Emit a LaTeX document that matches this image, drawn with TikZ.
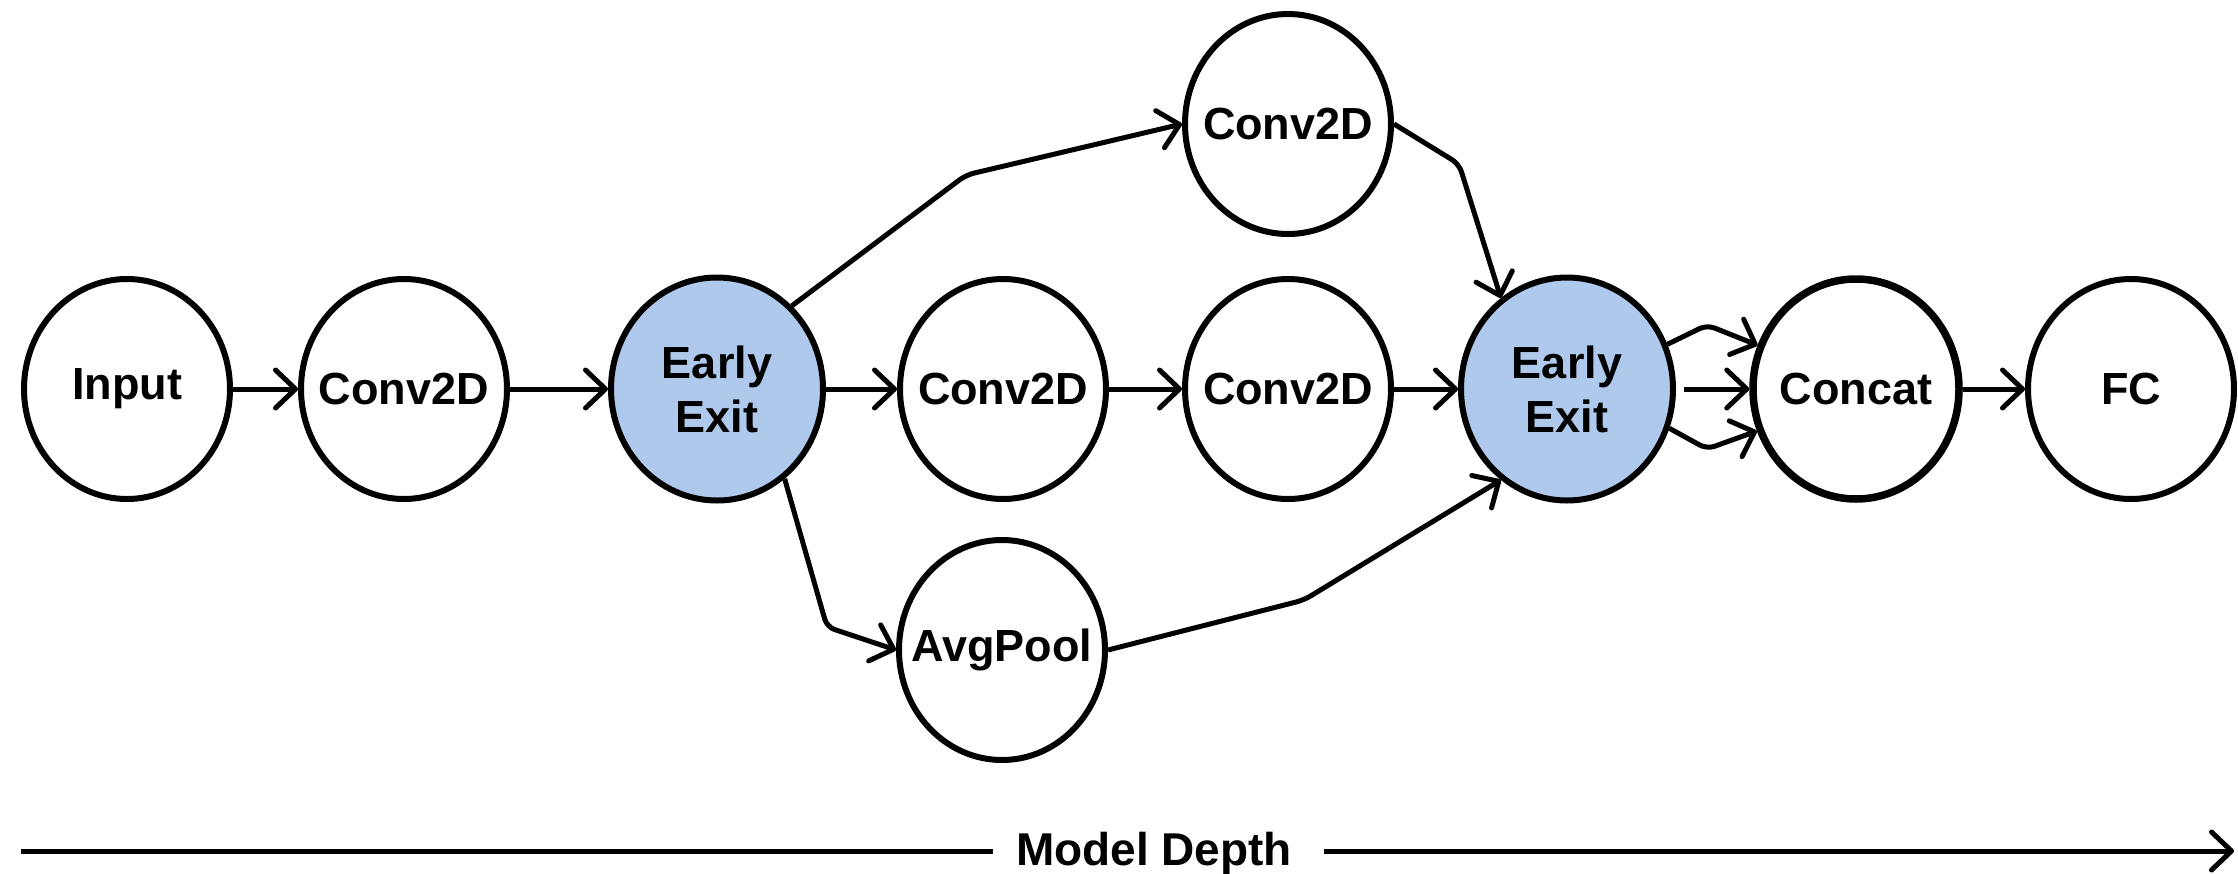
\documentclass[tikz,border=0pt]{standalone}
\usepackage{fontspec}
\setmainfont{Liberation Sans}
\usetikzlibrary{arrows.meta,shapes.geometric,calc}
\definecolor{exitblue}{RGB}{175,201,237}
% zero-width label so the ellipse keeps its fixed size
\newcommand\zw[1]{\makebox[0pt]{#1}}
\begin{document}
\begin{tikzpicture}[x=1pt,y=-1pt,
  layer/.style={ellipse,draw,line width=6pt,minimum width=206pt,minimum height=220pt,
    inner sep=0pt,font=\fontsize{45}{54}\selectfont\bfseries,align=center},
  exitnode/.style={layer,fill=exitblue,minimum width=212pt,minimum height=223pt},
  flow/.style={line width=5pt,-{Straight Barb[length=20pt,width=38pt,round]},rounded corners=8pt},
  axisline/.style={line width=5pt}]
% canvas
\path[fill=white,use as bounding box] (0,0) rectangle (2238,873);

% layers
\node[layer] (inp) at (127,389) {\zw{Input}};
\node[layer] (c1) at (404,389) {\zw{Conv2D}};
\node[exitnode] (ee1) at (717,389) {\zw{Early}\\\zw{Exit}};
\node[layer] (c2) at (1003,389) {\zw{Conv2D}};
\node[layer] (c3) at (1288,389) {\zw{Conv2D}};
\node[layer] (ctop) at (1288,124) {\zw{Conv2D}};
\node[layer] (avg) at (1002,650) {\zw{AvgPool}};
\node[exitnode] (ee2) at (1567,389) {\zw{Early}\\\zw{Exit}};
\node[layer,line width=7.5pt] (cat) at (1856,389) {\zw{Concat}};
\node[layer] (fc) at (2131,389) {\zw{FC}};

% bend points of the side branches
\coordinate (b1) at (966,175);
\coordinate (b2) at (1459,164);
\coordinate (b3) at (827,627);
\coordinate (b4) at (1304,600);
\coordinate (b5) at (1707,325);
\coordinate (b6) at (1707,449);

% main path
\draw[flow] (inp) -- (c1);
\draw[flow] (c1) -- (ee1);
\draw[flow] (ee1) -- (c2);
\draw[flow] (c2) -- (c3);
\draw[flow] (c3) -- (ee2);
\draw[flow] (cat) -- (fc);

% branches
\draw[flow] (ee1.48.5) -- (b1) -- (ctop.west);
\draw[flow] (ctop.east) -- (b2) -- (ee2.126);
\draw[flow] (ee1.-53.6) -- (b3) -- (avg.west);
\draw[flow] (avg.east) -- (b4) -- (ee2.-126);

% into concat
\draw[flow] (ee2.24) -- (b5) -- (cat.156);
\draw[flow] ([xshift=8pt]ee2.east) -- (cat.west);
\draw[flow] (ee2.-21) -- (b6) -- (cat.-157);

% depth axis
\node[font=\fontsize{46}{54}\selectfont\bfseries,anchor=base,inner sep=0pt] (md) at (1154,865) {Model Depth};
\coordinate (ls) at (21,851);
\coordinate (le) at (2234,851);
\draw[axisline] (ls) -- ($(ls -| md.west)+(-23,0)$);
\draw[axisline,-{Straight Barb[length=20pt,width=38pt,round]}] ($(le -| md.east)+(32,0)$) -- (le);
\end{tikzpicture}
\end{document}
